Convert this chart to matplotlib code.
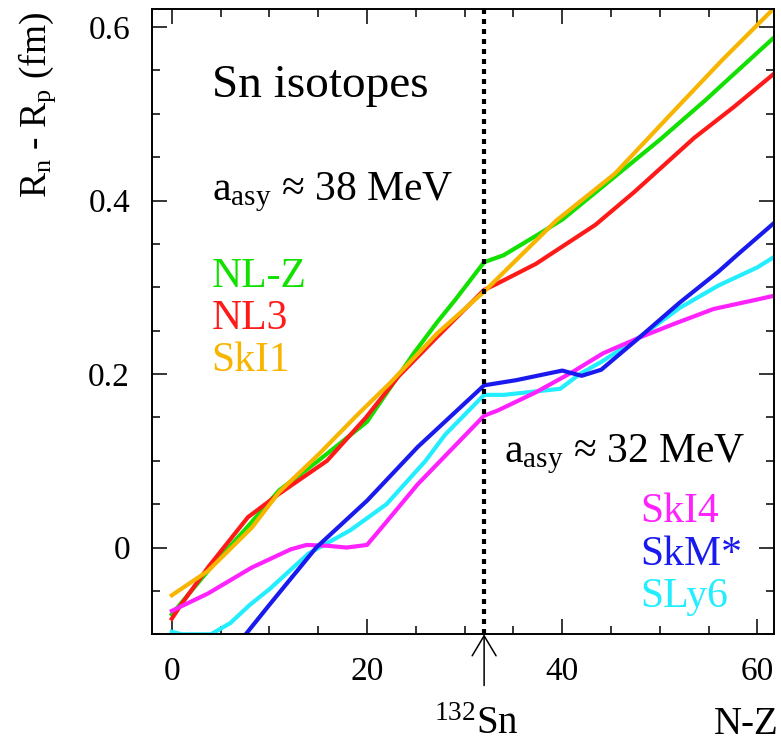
import numpy as np
import matplotlib
matplotlib.use('Agg')
import matplotlib.pyplot as plt
from matplotlib.ticker import MultipleLocator, FuncFormatter

plt.rcParams['font.family'] = ['Liberation Serif', 'DejaVu Serif']
plt.rcParams['mathtext.fontset'] = 'custom'
plt.rcParams['mathtext.rm'] = 'Liberation Serif'
plt.rcParams['mathtext.it'] = 'Liberation Serif:italic'

# N-Z values and neutron skin (fm)
nlz_x = [0, 2, 3.7, 8, 11, 15, 20, 22.3, 24.8, 27.2, 29, 32, 34, 37.7, 40, 45, 50, 54.7, 58, 62]
nlz_y = [-0.077, -0.05, -0.027, 0.027, 0.066, 0.1, 0.145, 0.183, 0.224, 0.26, 0.285, 0.329, 0.337, 0.362, 0.378, 0.424, 0.47, 0.516, 0.55, 0.591]

nl3_x = [0, 1, 3.7, 7.8, 11, 15.9, 19.9, 23.2, 27.2, 32, 33.3, 37.3, 43.4, 47.4, 53.5, 57.6, 62]
nl3_y = [-0.082, -0.065, -0.023, 0.035, 0.062, 0.1, 0.15, 0.197, 0.243, 0.297, 0.304, 0.327, 0.372, 0.41, 0.472, 0.508, 0.549]

ski1_x = [0, 3.7, 8.2, 11, 15.1, 19.1, 22.3, 27.2, 32, 39.4, 45.4, 51.5, 56.4, 62]
ski1_y = [-0.055, -0.027, 0.023, 0.064, 0.108, 0.154, 0.189, 0.247, 0.295, 0.377, 0.431, 0.504, 0.562, 0.625]

ski4_x = [0, 3.7, 8.2, 12.2, 13.8, 16, 17.9, 20, 21.5, 25.2, 32, 33.4, 37.3, 41, 44.2, 47.9, 51.5, 55.5, 59.6, 62]
ski4_y = [-0.073, -0.053, -0.023, -0.002, 0.003, 0.002, 0.0, 0.003, 0.023, 0.073, 0.152, 0.158, 0.179, 0.202, 0.224, 0.242, 0.258, 0.275, 0.285, 0.291]

skm_x = [7, 10, 14.8, 20, 25.2, 32, 35.3, 40, 42, 44, 48, 52, 56, 58, 62]
skm_y = [-0.108, -0.066, 0.0, 0.054, 0.116, 0.187, 0.193, 0.204, 0.198, 0.205, 0.243, 0.282, 0.318, 0.338, 0.377]

sly6_x = [0, 1, 4, 6, 8, 10, 14, 18.3, 22, 26, 28, 32, 34, 39.8, 41.8, 44, 48, 52, 56, 60, 62]
sly6_y = [-0.097, -0.1, -0.1, -0.087, -0.066, -0.048, -0.007, 0.02, 0.05, 0.1, 0.13, 0.176, 0.176, 0.183, 0.2, 0.214, 0.243, 0.276, 0.302, 0.323, 0.337]

sn132 = 32

fig = plt.figure(figsize=(7.81, 7.43), dpi=100)
ax = fig.add_axes([0.1950, 0.1463, 0.7960, 0.8412])

lw = 3
ax.plot(nlz_x, nlz_y, color='#11e000', lw=lw)
ax.plot(nl3_x, nl3_y, color='#ff1a1a', lw=lw)
ax.plot(ski1_x, ski1_y, color='#f7b500', lw=lw)
ax.plot(sly6_x, sly6_y, color='#22eeff', lw=lw)
ax.plot(ski4_x, ski4_y, color='#ff22ff', lw=lw)
ax.plot(skm_x, skm_y, color='#1a1aee', lw=lw)

ax.axvline(sn132, color='black', lw=3, linestyle=(0, (1.2, 1.2)))

ax.set_xlim(-2, 61.7)
ax.set_ylim(-0.1, 0.6205)

ax.xaxis.set_major_locator(MultipleLocator(20))
ax.xaxis.set_minor_locator(MultipleLocator(5))
ax.yaxis.set_major_locator(MultipleLocator(0.2))
ax.yaxis.set_minor_locator(MultipleLocator(0.05))
ax.yaxis.set_major_formatter(FuncFormatter(lambda v, p: '0' if abs(v) < 1e-9 else '%.1f' % v))
ax.tick_params(which='both', direction='in', top=True, right=True, width=1.1, labelsize=24)
ax.tick_params(which='major', length=10.8, pad=16)
ax.tick_params(which='minor', length=5.8)
for s in ax.spines.values():
    s.set_linewidth(1.4)

# texts
ax.text(0.0954, 0.8597, 'Sn isotopes', transform=ax.transAxes, fontsize=34, va='baseline')
ax.text(0.0954, 0.6949, r'a$_{\rm asy}$ ≈ 38 MeV', transform=ax.transAxes, fontsize=30, va='baseline')
ax.text(0.0954, 0.5557, 'NL-Z', transform=ax.transAxes, fontsize=30, va='baseline', color='#11e000')
ax.text(0.0954, 0.4885, 'NL3', transform=ax.transAxes, fontsize=30, va='baseline', color='#ff1a1a')
ax.text(0.0954, 0.4213, 'SkI1', transform=ax.transAxes, fontsize=30, va='baseline', color='#f7b500')

ax.text(0.5657, 0.2757, r'a$_{\rm asy}$ ≈ 32 MeV', transform=ax.transAxes, fontsize=30, va='baseline')
ax.text(0.7845, 0.1797, 'SkI4', transform=ax.transAxes, fontsize=30, va='baseline', color='#ff22ff')
ax.text(0.7845, 0.1109, 'SkM*', transform=ax.transAxes, fontsize=30, va='baseline', color='#1a1aee')
ax.text(0.7845, 0.0437, 'SLy6', transform=ax.transAxes, fontsize=30, va='baseline', color='#22eeff')

# arrow marking 132Sn
ax.annotate('', xy=(sn132, 0), xycoords=('data', 'axes fraction'),
            xytext=(sn132, -0.082), textcoords=('data', 'axes fraction'),
            arrowprops=dict(arrowstyle='->,head_length=0.72,head_width=0.43',
                            mutation_scale=20, lw=1.1, color='black', shrinkA=0, shrinkB=0),
            annotation_clip=False)

fig.text(0.610, 0.012, r'$^{132}$Sn', fontsize=28, ha='center', va='baseline')
fig.text(0.997, 0.012, 'N-Z', fontsize=28, ha='right', va='baseline')
fig.text(37 / 781, 0.8594, r'R$_{\rm n}$ - R$_{\rm p}$ (fm)', fontsize=27, rotation=90,
         ha='center', va='center')

fig.savefig('out.png', dpi=100)
